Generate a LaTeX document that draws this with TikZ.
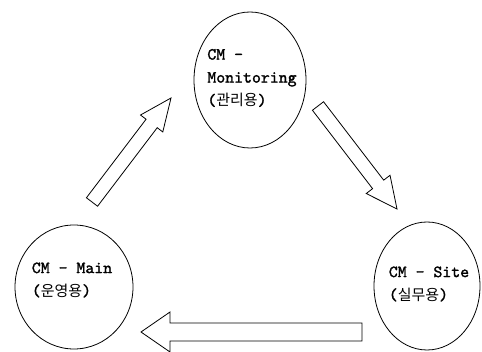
\documentclass[tikz,border=0pt]{standalone}
\usepackage{fontspec}
\newfontfamily\krfont{Noto Sans CJK KR}
\newfontfamily\capmono{lmmono10-regular.otf}[FakeBold=1.6]
\usetikzlibrary{calc,shapes.geometric}

% Hangul in the CJK face, Latin and parentheses stay in the mono face
\newcommand\kor[1]{{\krfont\fontsize{15}{23}\selectfont #1}}

% outlined block arrow: tail, tip, shaft half width, head half width, head length
\newcommand\blockarrow[5]{%
  \coordinate (neck) at ($(#2)!#5!(#1)$);
  \draw[blockline]
    ($(#1)!#3!90:(#2)$) -- ($(neck)!#3!90:(#2)$) -- ($(neck)!#4!90:(#2)$) --
    (#2) --
    ($(neck)!#4!-90:(#2)$) -- ($(neck)!#3!-90:(#2)$) -- ($(#1)!#3!-90:(#2)$) -- cycle;}

\begin{document}
\begin{tikzpicture}[x=1pt,y=-1pt,
  phase/.style={draw, ellipse, line width=0.8pt, inner sep=0pt},
  captiontext/.style={align=left, inner sep=0pt,
    font=\capmono\fontsize{17}{23}\selectfont},
  blockline/.style={draw, line width=0.8pt, line join=miter, fill=white}]

\useasboundingbox (0,0) rectangle (482,352);

% the three stations of the cycle
\node[phase, minimum width=112pt, minimum height=136pt] (mon) at (250,80) {};
\node[phase, minimum width=118pt, minimum height=124pt] (main) at (74,287) {};
\node[phase, minimum width=106pt, minimum height=128pt] (site) at (427,286) {};

\node[captiontext] (mon-t)  at (252,78)  {CM -\\Monitoring\\(\kor{관리용})};
\node[captiontext] (main-t) at (72,280)  {CM - Main\\(\kor{운영용})};
\node[captiontext] (site-t) at (429,284) {CM - Site\\(\kor{실무용})};

% arrow ends between the stations
\coordinate (a1tail) at (92,202);
\coordinate (a1tip)  at (171,98);
\coordinate (a2tail) at (318,106);
\coordinate (a2tip)  at (397,209);
\coordinate (a3tail) at (362,332);
\coordinate (a3tip)  at (141,332);

\blockarrow{a1tail}{a1tip}{7pt}{14pt}{32pt}
\blockarrow{a2tail}{a2tip}{7pt}{15pt}{31pt}
\blockarrow{a3tail}{a3tip}{9pt}{20pt}{29pt}
\end{tikzpicture}
\end{document}
